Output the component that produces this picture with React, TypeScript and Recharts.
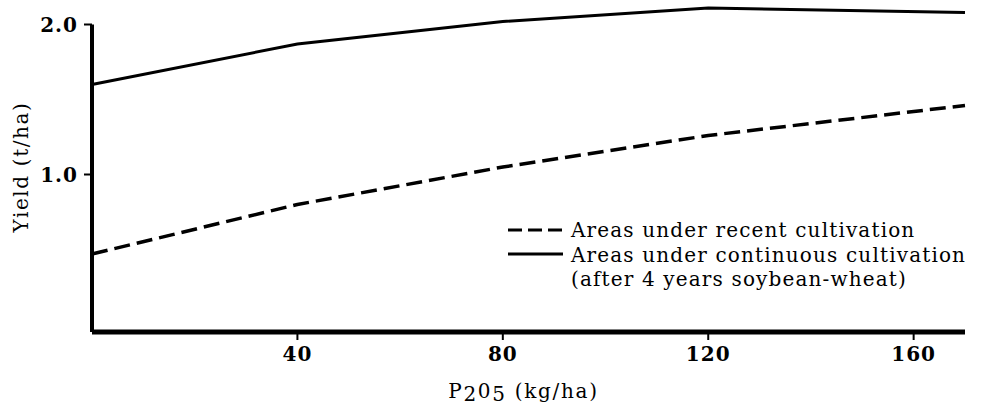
import { LineChart, Line, XAxis, YAxis, ReferenceLine } from "recharts";

const phosphate = [0, 40, 80, 120, 170];
const recentYield = [0.47, 0.8, 1.05, 1.26, 1.46];
const continuousYield = [1.6, 1.87, 2.02, 2.11, 2.08];
const xTicks = [40, 80, 120, 160];
const yTicks = [1.0, 2.0];
const legendLines = [
  "Areas under recent cultivation",
  "Areas under continuous cultivation",
  "(after 4 years soybean-wheat)",
];

const FONT = "'DejaVu Serif', 'Liberation Serif', serif";

const data = phosphate.map((p, i) => ({
  p,
  recent: recentYield[i],
  continuous: continuousYield[i],
}));

// legend drawn as an overlay so it does not eat into the plot area
function LegendOverlay() {
  return (
    <svg width={993} height={410} style={{ position: "absolute", left: 0, top: 0, pointerEvents: "none" }}>
      <line x1={508} y1={230} x2={563} y2={230} stroke="#000" strokeWidth={3} strokeDasharray="14 6" />
      <line x1={508} y1={254} x2={563} y2={254} stroke="#000" strokeWidth={3} />
      {legendLines.map((t, i) => (
        <text
          key={i}
          x={571}
          y={237 + i * 24.5}
          fontFamily={FONT}
          fontSize={20}
          letterSpacing={1.15}
          fill="#000"
        >
          {t}
        </text>
      ))}
    </svg>
  );
}

function XLabel(props: any) {
  const vb = props.viewBox || {};
  const cx = vb.x + vb.width / 2;
  return (
    <text x={cx - 5} y={398} textAnchor="middle" fontFamily={FONT} fontSize={20} letterSpacing={1.7} fill="#000">
      <tspan>P</tspan>
      <tspan dy={3}>2</tspan>
      <tspan dy={-3}>0</tspan>
      <tspan dy={3}>5</tspan>
      <tspan dy={-3}> (kg/ha)</tspan>
    </text>
  );
}

function YLabel() {
  return (
    <text
      x={28}
      y={167}
      transform="rotate(-90 28 167)"
      textAnchor="middle"
      fontFamily={FONT}
      fontSize={20}
      letterSpacing={1.6}
      fill="#000"
    >
      Yield (t/ha)
    </text>
  );
}

const tickStyle = { fill: "#000", fontFamily: FONT, fontSize: 20, fontWeight: 700, letterSpacing: 1 };

export default function App() {
  return (
    <div style={{ position: "absolute", left: 0, top: 0, width: 993, height: 410, background: "#fff" }}>
      <LineChart width={993} height={410} data={data} margin={{ top: 2, right: 28, bottom: 0, left: 0 }}>
        <XAxis
          dataKey="p"
          type="number"
          domain={[0, 170]}
          ticks={xTicks}
          height={78}
          axisLine={{ stroke: "#000", strokeWidth: 5 }}
          tickLine={{ stroke: "#000", strokeWidth: 2 }}
          tickSize={8}
          tickMargin={7}
          tick={tickStyle}
          label={<XLabel />}
        />
        <YAxis
          type="number"
          domain={[-0.05, 2.15]}
          ticks={yTicks}
          width={92}
          axisLine={false}
          tickLine={{ stroke: "#000", strokeWidth: 2 }}
          tickSize={8}
          tickMargin={6}
          tickFormatter={(v: number) => v.toFixed(1)}
          tick={tickStyle}
          label={<YLabel />}
        />
        <ReferenceLine
          segment={[{ x: 0, y: -0.05 }, { x: 0, y: 2.0 }]}
          stroke="#000"
          strokeWidth={4}
        />
        <Line
          type="linear"
          dataKey="continuous"
          stroke="#000"
          strokeWidth={3}
          dot={false}
          isAnimationActive={false}
        />
        <Line
          type="linear"
          dataKey="recent"
          stroke="#000"
          strokeWidth={3.5}
          strokeDasharray="16 7"
          dot={false}
          isAnimationActive={false}
        />
      </LineChart>
      <LegendOverlay />
    </div>
  );
}
